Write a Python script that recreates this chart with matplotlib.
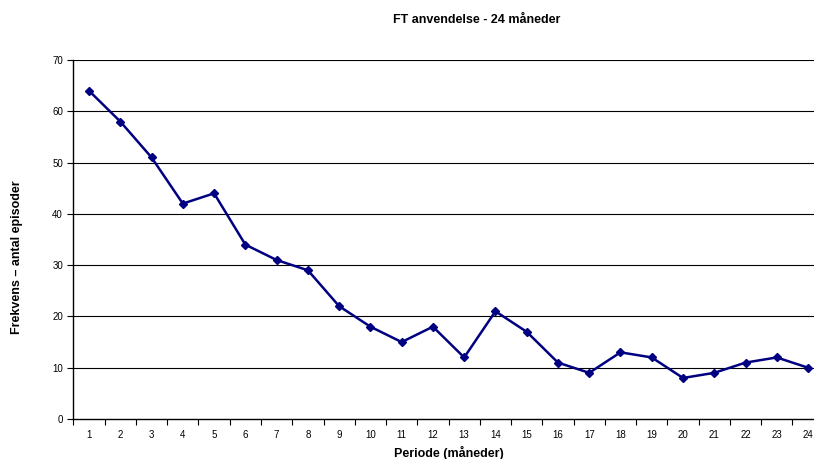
import numpy as np
import matplotlib
matplotlib.use("Agg")
import matplotlib.pyplot as plt

plt.rcParams['font.family'] = ['Liberation Sans', 'DejaVu Sans']

periods = list(range(1, 25))
episodes = [64, 58, 51, 42, 44, 34, 31, 29, 22, 18, 15, 18,
            12, 21, 17, 11, 9, 13, 12, 8, 9, 11, 12, 10]
y_ticks = [0, 10, 20, 30, 40, 50, 60, 70]

fig = plt.figure(figsize=(8.14, 4.59), dpi=100)
# plot area runs past the right edge like in the reference
ax = fig.add_axes([73.4 / 814, 40 / 459, 750.3 / 814, 359 / 459])

for v in y_ticks[1:]:
    ax.axhline(v, color='black', linewidth=0.8, zorder=1)

ax.plot(periods, episodes, color='#000080', linewidth=1.8, marker='D',
        markersize=4.5, zorder=3)

ax.set_xlim(0.5, 24.5)
ax.set_ylim(0, 70)
ax.set_yticks(y_ticks)
ax.set_xticks(np.arange(0.5, 25, 1))
ax.set_xticklabels([])
ax.set_xticks(periods, minor=True)
ax.set_xticklabels([str(p) for p in periods], minor=True)
ax.tick_params(axis='x', which='major', direction='out', length=4, width=0.8)
ax.tick_params(axis='x', which='minor', length=0, pad=8, labelsize=7)
ax.tick_params(axis='y', direction='out', length=4, width=0.8, labelsize=7)

ax.spines['top'].set_visible(False)
ax.spines['right'].set_visible(False)
ax.spines['left'].set_linewidth(1)
ax.spines['bottom'].set_linewidth(1)

ax.set_xlabel('Periode (måneder)', fontsize=9, fontweight='bold', labelpad=4)
ax.set_ylabel('Frekvens – antal episoder', fontsize=9, fontweight='bold',
              va='center')
ax.yaxis.set_label_coords(-0.075, 0.45)
fig.text(477 / 814, 1 - 20 / 459, 'FT anvendelse - 24 måneder', ha='center',
         va='center', fontsize=9, fontweight='bold')

fig.savefig('out.png', dpi=100)
